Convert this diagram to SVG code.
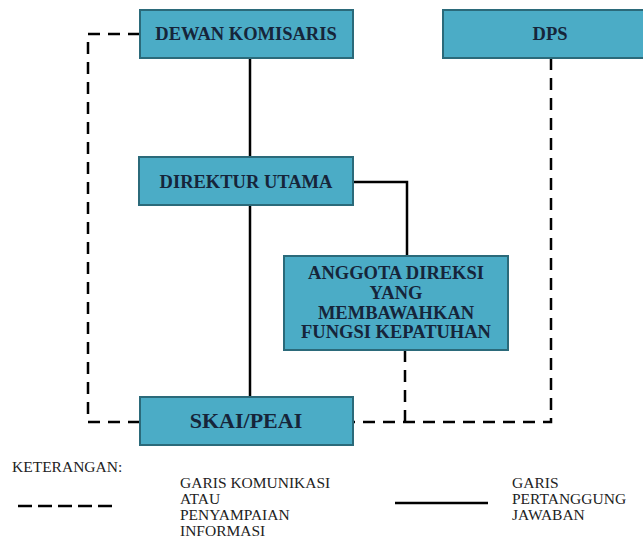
<svg xmlns="http://www.w3.org/2000/svg" width="643" height="538" viewBox="0 0 643 538">
<style>
.box{fill:#4BACC6;stroke:#2B6A7A;stroke-width:2}
.bt{font-family:'Liberation Serif','Times New Roman',Tinos,'DejaVu Serif',serif;font-weight:bold;font-size:18.5px;fill:#16253A;text-anchor:middle}
.solid{fill:none;stroke:#000;stroke-width:2.5}
.dash{fill:none;stroke:#000;stroke-width:2.5;stroke-dasharray:12 8}
.lt{font-family:'Liberation Serif','Times New Roman',Tinos,'DejaVu Serif',serif;font-size:15.5px;fill:#222}
</style>
<rect width="643" height="538" fill="#fff"/>
<g id="connectors">
<path class="solid" d="M250 58V157"/>
<path class="solid" d="M250 205V397"/>
<path class="solid" d="M353 182H407V256"/>
<path class="dash" d="M140 34H88V422H140"/>
<path class="dash" d="M551 58V422H353"/>
<path class="dash" d="M405 350V422"/>
</g>
<g id="dewan-komisaris">
<rect class="box" x="140" y="10" width="213" height="48"/>
<text class="bt" x="246" y="40">DEWAN KOMISARIS</text>
</g>
<g id="dps">
<rect class="box" x="443" y="10" width="214" height="48"/>
<text class="bt" x="550" y="40">DPS</text>
</g>
<g id="direktur-utama">
<rect class="box" x="139" y="157" width="214" height="48"/>
<text class="bt" x="246" y="188">DIREKTUR UTAMA</text>
</g>
<g id="anggota-direksi">
<rect class="box" x="284" y="256" width="224" height="94"/>
<text class="bt" x="396" y="279">ANGGOTA DIREKSI</text>
<text class="bt" x="396" y="299">YANG</text>
<text class="bt" x="396" y="319">MEMBAWAHKAN</text>
<text class="bt" x="396" y="338">FUNGSI KEPATUHAN</text>
</g>
<g id="skai-peai">
<rect class="box" x="140" y="397" width="213" height="48"/>
<text class="bt" x="246" y="428" style="font-size:22px">SKAI/PEAI</text>
</g>
<g id="legend">
<text class="lt" x="12" y="472">KETERANGAN:</text>
<path class="dash" d="M18 506H112" style="stroke-dasharray:14 6"/>
<text class="lt" x="180" y="488">GARIS KOMUNIKASI</text>
<text class="lt" x="180" y="504">ATAU</text>
<text class="lt" x="180" y="520">PENYAMPAIAN</text>
<text class="lt" x="180" y="536">INFORMASI</text>
<path class="solid" d="M395 503H488"/>
<text class="lt" x="512" y="488">GARIS</text>
<text class="lt" x="512" y="504">PERTANGGUNG</text>
<text class="lt" x="512" y="520">JAWABAN</text>
</g>
</svg>
